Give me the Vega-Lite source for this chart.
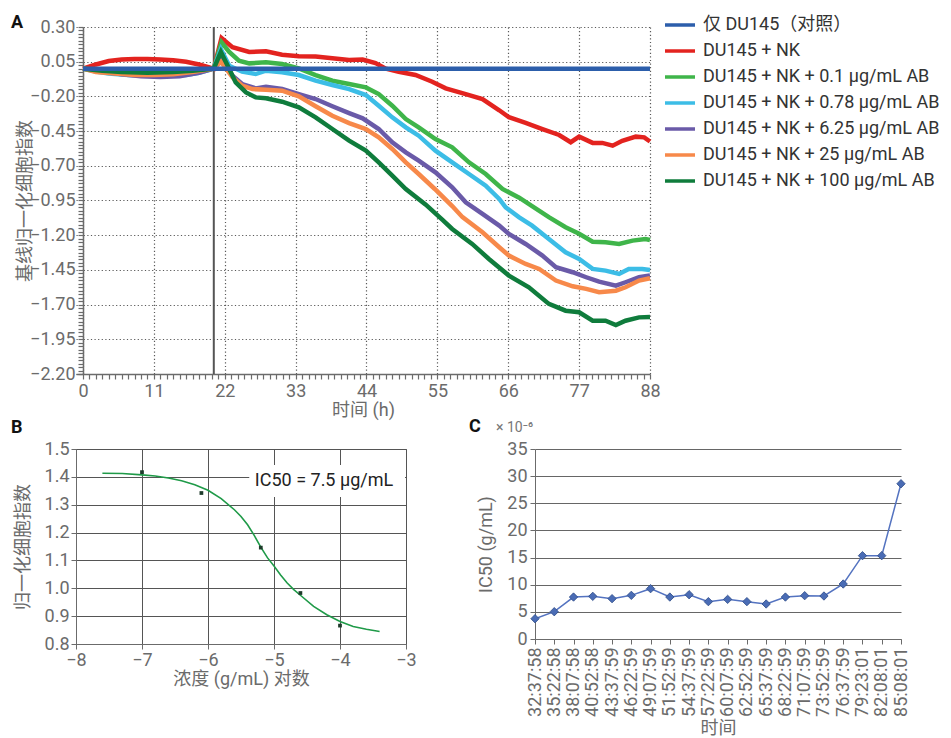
{
  "$schema": "https://vega.github.io/schema/vega-lite/v6.json",
  "background": "white",
  "padding": {"left": 10, "top": 8, "right": 0, "bottom": 0},
  "config": {
    "font": "Roboto, 'Noto Sans CJK SC', sans-serif",
    "view": {"stroke": null},
    "axis": {
      "labelFont": "Roboto, 'Noto Sans CJK SC', sans-serif",
      "titleFont": "Roboto, 'Noto Sans CJK SC', sans-serif",
      "labelColor": "#6b6b6b", "titleColor": "#6b6b6b",
      "labelFontSize": 18, "titleFontSize": 18, "titleFontWeight": "normal",
      "domainColor": "#6b6b6b", "tickColor": "#6b6b6b",
      "labelFlush": false, "labelOverlap": false, "labelBound": false
    },
    "title": {"font": "Roboto, sans-serif", "fontSize": 18, "fontWeight": "bold", "color": "#111111", "anchor": "start", "frame": "group"},
    "legend": {"labelFont": "Roboto, 'Noto Sans CJK SC', sans-serif"}
  },
  "datasets": {
    "lines": [
      {"s":"DU145 + NK","t":0,"v":0},{"s":"DU145 + NK","t":2,"v":0.03},{"s":"DU145 + NK","t":4,"v":0.055},{"s":"DU145 + NK","t":6,"v":0.065},{"s":"DU145 + NK","t":8,"v":0.07},{"s":"DU145 + NK","t":10,"v":0.07},{"s":"DU145 + NK","t":12,"v":0.065},{"s":"DU145 + NK","t":14,"v":0.06},{"s":"DU145 + NK","t":16,"v":0.05},{"s":"DU145 + NK","t":18,"v":0.03},{"s":"DU145 + NK","t":20.3,"v":0},{"s":"DU145 + NK","t":21.5,"v":0.22},{"s":"DU145 + NK","t":23.2,"v":0.155},{"s":"DU145 + NK","t":25.8,"v":0.12},{"s":"DU145 + NK","t":28.4,"v":0.125},{"s":"DU145 + NK","t":30.9,"v":0.1},{"s":"DU145 + NK","t":33.5,"v":0.09},{"s":"DU145 + NK","t":36.1,"v":0.087},{"s":"DU145 + NK","t":38.7,"v":0.075},{"s":"DU145 + NK","t":41.3,"v":0.062},{"s":"DU145 + NK","t":43.4,"v":0.066},{"s":"DU145 + NK","t":45.4,"v":0.04},{"s":"DU145 + NK","t":47,"v":0},{"s":"DU145 + NK","t":49,"v":-0.022},{"s":"DU145 + NK","t":51.6,"v":-0.046},{"s":"DU145 + NK","t":54.2,"v":-0.094},{"s":"DU145 + NK","t":56.3,"v":-0.142},{"s":"DU145 + NK","t":59.4,"v":-0.183},{"s":"DU145 + NK","t":62,"v":-0.22},{"s":"DU145 + NK","t":64.6,"v":-0.3},{"s":"DU145 + NK","t":66.1,"v":-0.35},{"s":"DU145 + NK","t":68.7,"v":-0.39},{"s":"DU145 + NK","t":71.3,"v":-0.435},{"s":"DU145 + NK","t":73.9,"v":-0.478},{"s":"DU145 + NK","t":75.7,"v":-0.53},{"s":"DU145 + NK","t":77,"v":-0.49},{"s":"DU145 + NK","t":79.1,"v":-0.535},{"s":"DU145 + NK","t":80.6,"v":-0.535},{"s":"DU145 + NK","t":82.2,"v":-0.555},{"s":"DU145 + NK","t":83.7,"v":-0.52},{"s":"DU145 + NK","t":85.8,"v":-0.49},{"s":"DU145 + NK","t":87.1,"v":-0.495},{"s":"DU145 + NK","t":88,"v":-0.525},

      {"s":"DU145 + NK + 0.1 μg/mL AB","t":0,"v":0},{"s":"DU145 + NK + 0.1 μg/mL AB","t":3,"v":-0.01},{"s":"DU145 + NK + 0.1 μg/mL AB","t":6,"v":-0.02},{"s":"DU145 + NK + 0.1 μg/mL AB","t":10,"v":-0.025},{"s":"DU145 + NK + 0.1 μg/mL AB","t":14,"v":-0.025},{"s":"DU145 + NK + 0.1 μg/mL AB","t":17,"v":-0.015},{"s":"DU145 + NK + 0.1 μg/mL AB","t":20.3,"v":0},{"s":"DU145 + NK + 0.1 μg/mL AB","t":21.5,"v":0.19},{"s":"DU145 + NK + 0.1 μg/mL AB","t":22.7,"v":0.12},{"s":"DU145 + NK + 0.1 μg/mL AB","t":24.2,"v":0.057},{"s":"DU145 + NK + 0.1 μg/mL AB","t":25.8,"v":0.038},{"s":"DU145 + NK + 0.1 μg/mL AB","t":28.4,"v":0.046},{"s":"DU145 + NK + 0.1 μg/mL AB","t":30.9,"v":0.033},{"s":"DU145 + NK + 0.1 μg/mL AB","t":33.5,"v":0.002},{"s":"DU145 + NK + 0.1 μg/mL AB","t":36.1,"v":-0.046},{"s":"DU145 + NK + 0.1 μg/mL AB","t":38.7,"v":-0.087},{"s":"DU145 + NK + 0.1 μg/mL AB","t":41.3,"v":-0.111},{"s":"DU145 + NK + 0.1 μg/mL AB","t":43.9,"v":-0.135},{"s":"DU145 + NK + 0.1 μg/mL AB","t":45.9,"v":-0.183},{"s":"DU145 + NK + 0.1 μg/mL AB","t":48,"v":-0.267},{"s":"DU145 + NK + 0.1 μg/mL AB","t":50.1,"v":-0.363},{"s":"DU145 + NK + 0.1 μg/mL AB","t":52.1,"v":-0.423},{"s":"DU145 + NK + 0.1 μg/mL AB","t":54.7,"v":-0.507},{"s":"DU145 + NK + 0.1 μg/mL AB","t":57.3,"v":-0.567},{"s":"DU145 + NK + 0.1 μg/mL AB","t":59.9,"v":-0.675},{"s":"DU145 + NK + 0.1 μg/mL AB","t":62.5,"v":-0.759},{"s":"DU145 + NK + 0.1 μg/mL AB","t":65.1,"v":-0.867},{"s":"DU145 + NK + 0.1 μg/mL AB","t":67.7,"v":-0.93},{"s":"DU145 + NK + 0.1 μg/mL AB","t":69.7,"v":-0.99},{"s":"DU145 + NK + 0.1 μg/mL AB","t":72.3,"v":-1.07},{"s":"DU145 + NK + 0.1 μg/mL AB","t":74.9,"v":-1.143},{"s":"DU145 + NK + 0.1 μg/mL AB","t":77,"v":-1.19},{"s":"DU145 + NK + 0.1 μg/mL AB","t":79.1,"v":-1.247},{"s":"DU145 + NK + 0.1 μg/mL AB","t":81.1,"v":-1.251},{"s":"DU145 + NK + 0.1 μg/mL AB","t":83.2,"v":-1.263},{"s":"DU145 + NK + 0.1 μg/mL AB","t":85.3,"v":-1.239},{"s":"DU145 + NK + 0.1 μg/mL AB","t":87.3,"v":-1.227},{"s":"DU145 + NK + 0.1 μg/mL AB","t":88,"v":-1.235},

      {"s":"DU145 + NK + 0.78 μg/mL AB","t":0,"v":0},{"s":"DU145 + NK + 0.78 μg/mL AB","t":2,"v":-0.02},{"s":"DU145 + NK + 0.78 μg/mL AB","t":4,"v":-0.035},{"s":"DU145 + NK + 0.78 μg/mL AB","t":7,"v":-0.045},{"s":"DU145 + NK + 0.78 μg/mL AB","t":10,"v":-0.05},{"s":"DU145 + NK + 0.78 μg/mL AB","t":13,"v":-0.05},{"s":"DU145 + NK + 0.78 μg/mL AB","t":16,"v":-0.045},{"s":"DU145 + NK + 0.78 μg/mL AB","t":18,"v":-0.03},{"s":"DU145 + NK + 0.78 μg/mL AB","t":20.3,"v":0},{"s":"DU145 + NK + 0.78 μg/mL AB","t":21.4,"v":0.14},{"s":"DU145 + NK + 0.78 μg/mL AB","t":22.7,"v":0.021},{"s":"DU145 + NK + 0.78 μg/mL AB","t":24.7,"v":-0.022},{"s":"DU145 + NK + 0.78 μg/mL AB","t":26.8,"v":-0.039},{"s":"DU145 + NK + 0.78 μg/mL AB","t":28.4,"v":-0.015},{"s":"DU145 + NK + 0.78 μg/mL AB","t":30.9,"v":-0.026},{"s":"DU145 + NK + 0.78 μg/mL AB","t":33.5,"v":-0.046},{"s":"DU145 + NK + 0.78 μg/mL AB","t":36.1,"v":-0.087},{"s":"DU145 + NK + 0.78 μg/mL AB","t":38.7,"v":-0.118},{"s":"DU145 + NK + 0.78 μg/mL AB","t":41.3,"v":-0.147},{"s":"DU145 + NK + 0.78 μg/mL AB","t":43.9,"v":-0.19},{"s":"DU145 + NK + 0.78 μg/mL AB","t":45.9,"v":-0.267},{"s":"DU145 + NK + 0.78 μg/mL AB","t":48,"v":-0.351},{"s":"DU145 + NK + 0.78 μg/mL AB","t":50.1,"v":-0.423},{"s":"DU145 + NK + 0.78 μg/mL AB","t":52.1,"v":-0.483},{"s":"DU145 + NK + 0.78 μg/mL AB","t":54.7,"v":-0.591},{"s":"DU145 + NK + 0.78 μg/mL AB","t":57.3,"v":-0.675},{"s":"DU145 + NK + 0.78 μg/mL AB","t":59.9,"v":-0.759},{"s":"DU145 + NK + 0.78 μg/mL AB","t":62.5,"v":-0.843},{"s":"DU145 + NK + 0.78 μg/mL AB","t":64.6,"v":-0.939},{"s":"DU145 + NK + 0.78 μg/mL AB","t":65.6,"v":-0.999},{"s":"DU145 + NK + 0.78 μg/mL AB","t":67.7,"v":-1.071},{"s":"DU145 + NK + 0.78 μg/mL AB","t":69.7,"v":-1.131},{"s":"DU145 + NK + 0.78 μg/mL AB","t":72.3,"v":-1.227},{"s":"DU145 + NK + 0.78 μg/mL AB","t":74.9,"v":-1.323},{"s":"DU145 + NK + 0.78 μg/mL AB","t":77,"v":-1.371},{"s":"DU145 + NK + 0.78 μg/mL AB","t":79.1,"v":-1.443},{"s":"DU145 + NK + 0.78 μg/mL AB","t":81.1,"v":-1.455},{"s":"DU145 + NK + 0.78 μg/mL AB","t":83.2,"v":-1.479},{"s":"DU145 + NK + 0.78 μg/mL AB","t":84.7,"v":-1.443},{"s":"DU145 + NK + 0.78 μg/mL AB","t":86.8,"v":-1.443},{"s":"DU145 + NK + 0.78 μg/mL AB","t":88,"v":-1.45},

      {"s":"DU145 + NK + 6.25 μg/mL AB","t":0,"v":0},{"s":"DU145 + NK + 6.25 μg/mL AB","t":3,"v":-0.02},{"s":"DU145 + NK + 6.25 μg/mL AB","t":6,"v":-0.04},{"s":"DU145 + NK + 6.25 μg/mL AB","t":9,"v":-0.055},{"s":"DU145 + NK + 6.25 μg/mL AB","t":12,"v":-0.06},{"s":"DU145 + NK + 6.25 μg/mL AB","t":15,"v":-0.055},{"s":"DU145 + NK + 6.25 μg/mL AB","t":18,"v":-0.03},{"s":"DU145 + NK + 6.25 μg/mL AB","t":20.3,"v":0},{"s":"DU145 + NK + 6.25 μg/mL AB","t":21.5,"v":0.07},{"s":"DU145 + NK + 6.25 μg/mL AB","t":23.2,"v":-0.051},{"s":"DU145 + NK + 6.25 μg/mL AB","t":24.7,"v":-0.111},{"s":"DU145 + NK + 6.25 μg/mL AB","t":26.8,"v":-0.142},{"s":"DU145 + NK + 6.25 μg/mL AB","t":28.4,"v":-0.13},{"s":"DU145 + NK + 6.25 μg/mL AB","t":30.9,"v":-0.147},{"s":"DU145 + NK + 6.25 μg/mL AB","t":33.5,"v":-0.183},{"s":"DU145 + NK + 6.25 μg/mL AB","t":36.1,"v":-0.219},{"s":"DU145 + NK + 6.25 μg/mL AB","t":38.7,"v":-0.271},{"s":"DU145 + NK + 6.25 μg/mL AB","t":41.3,"v":-0.32},{"s":"DU145 + NK + 6.25 μg/mL AB","t":43.4,"v":-0.358},{"s":"DU145 + NK + 6.25 μg/mL AB","t":45.9,"v":-0.435},{"s":"DU145 + NK + 6.25 μg/mL AB","t":48,"v":-0.531},{"s":"DU145 + NK + 6.25 μg/mL AB","t":50.1,"v":-0.603},{"s":"DU145 + NK + 6.25 μg/mL AB","t":52.1,"v":-0.663},{"s":"DU145 + NK + 6.25 μg/mL AB","t":54.7,"v":-0.747},{"s":"DU145 + NK + 6.25 μg/mL AB","t":57.3,"v":-0.855},{"s":"DU145 + NK + 6.25 μg/mL AB","t":59.4,"v":-0.963},{"s":"DU145 + NK + 6.25 μg/mL AB","t":62,"v":-1.047},{"s":"DU145 + NK + 6.25 μg/mL AB","t":64.6,"v":-1.131},{"s":"DU145 + NK + 6.25 μg/mL AB","t":66.1,"v":-1.191},{"s":"DU145 + NK + 6.25 μg/mL AB","t":68.7,"v":-1.263},{"s":"DU145 + NK + 6.25 μg/mL AB","t":71.3,"v":-1.347},{"s":"DU145 + NK + 6.25 μg/mL AB","t":73.4,"v":-1.431},{"s":"DU145 + NK + 6.25 μg/mL AB","t":76,"v":-1.467},{"s":"DU145 + NK + 6.25 μg/mL AB","t":78.1,"v":-1.503},{"s":"DU145 + NK + 6.25 μg/mL AB","t":80.1,"v":-1.535},{"s":"DU145 + NK + 6.25 μg/mL AB","t":82.7,"v":-1.564},{"s":"DU145 + NK + 6.25 μg/mL AB","t":84.2,"v":-1.539},{"s":"DU145 + NK + 6.25 μg/mL AB","t":86.3,"v":-1.503},{"s":"DU145 + NK + 6.25 μg/mL AB","t":88,"v":-1.49},

      {"s":"DU145 + NK + 25 μg/mL AB","t":0,"v":0},{"s":"DU145 + NK + 25 μg/mL AB","t":2,"v":-0.025},{"s":"DU145 + NK + 25 μg/mL AB","t":5,"v":-0.035},{"s":"DU145 + NK + 25 μg/mL AB","t":8,"v":-0.045},{"s":"DU145 + NK + 25 μg/mL AB","t":11,"v":-0.045},{"s":"DU145 + NK + 25 μg/mL AB","t":14,"v":-0.04},{"s":"DU145 + NK + 25 μg/mL AB","t":17,"v":-0.025},{"s":"DU145 + NK + 25 μg/mL AB","t":20.3,"v":0},{"s":"DU145 + NK + 25 μg/mL AB","t":21.4,"v":0.05},{"s":"DU145 + NK + 25 μg/mL AB","t":23.2,"v":-0.062},{"s":"DU145 + NK + 25 μg/mL AB","t":24.7,"v":-0.123},{"s":"DU145 + NK + 25 μg/mL AB","t":26.3,"v":-0.147},{"s":"DU145 + NK + 25 μg/mL AB","t":28.4,"v":-0.152},{"s":"DU145 + NK + 25 μg/mL AB","t":30.9,"v":-0.159},{"s":"DU145 + NK + 25 μg/mL AB","t":33.5,"v":-0.2},{"s":"DU145 + NK + 25 μg/mL AB","t":36.1,"v":-0.271},{"s":"DU145 + NK + 25 μg/mL AB","t":38.7,"v":-0.339},{"s":"DU145 + NK + 25 μg/mL AB","t":41.3,"v":-0.392},{"s":"DU145 + NK + 25 μg/mL AB","t":43.9,"v":-0.435},{"s":"DU145 + NK + 25 μg/mL AB","t":45.9,"v":-0.495},{"s":"DU145 + NK + 25 μg/mL AB","t":48,"v":-0.579},{"s":"DU145 + NK + 25 μg/mL AB","t":50.1,"v":-0.675},{"s":"DU145 + NK + 25 μg/mL AB","t":52.1,"v":-0.759},{"s":"DU145 + NK + 25 μg/mL AB","t":54.6,"v":-0.867},{"s":"DU145 + NK + 25 μg/mL AB","t":57.3,"v":-0.99},{"s":"DU145 + NK + 25 μg/mL AB","t":58.9,"v":-1.07},{"s":"DU145 + NK + 25 μg/mL AB","t":62,"v":-1.179},{"s":"DU145 + NK + 25 μg/mL AB","t":64.6,"v":-1.287},{"s":"DU145 + NK + 25 μg/mL AB","t":66.1,"v":-1.347},{"s":"DU145 + NK + 25 μg/mL AB","t":68.7,"v":-1.407},{"s":"DU145 + NK + 25 μg/mL AB","t":70.8,"v":-1.443},{"s":"DU145 + NK + 25 μg/mL AB","t":73.4,"v":-1.527},{"s":"DU145 + NK + 25 μg/mL AB","t":76,"v":-1.568},{"s":"DU145 + NK + 25 μg/mL AB","t":78.1,"v":-1.587},{"s":"DU145 + NK + 25 μg/mL AB","t":80.1,"v":-1.611},{"s":"DU145 + NK + 25 μg/mL AB","t":82.7,"v":-1.6},{"s":"DU145 + NK + 25 μg/mL AB","t":84.2,"v":-1.575},{"s":"DU145 + NK + 25 μg/mL AB","t":86.3,"v":-1.527},{"s":"DU145 + NK + 25 μg/mL AB","t":88,"v":-1.51},

      {"s":"DU145 + NK + 100 μg/mL AB","t":0,"v":0},{"s":"DU145 + NK + 100 μg/mL AB","t":3,"v":-0.015},{"s":"DU145 + NK + 100 μg/mL AB","t":6,"v":-0.025},{"s":"DU145 + NK + 100 μg/mL AB","t":10,"v":-0.03},{"s":"DU145 + NK + 100 μg/mL AB","t":14,"v":-0.025},{"s":"DU145 + NK + 100 μg/mL AB","t":17,"v":-0.015},{"s":"DU145 + NK + 100 μg/mL AB","t":20.3,"v":0},{"s":"DU145 + NK + 100 μg/mL AB","t":21.4,"v":0.12},{"s":"DU145 + NK + 100 μg/mL AB","t":22.7,"v":-0.003},{"s":"DU145 + NK + 100 μg/mL AB","t":23.7,"v":-0.099},{"s":"DU145 + NK + 100 μg/mL AB","t":25.3,"v":-0.171},{"s":"DU145 + NK + 100 μg/mL AB","t":26.8,"v":-0.207},{"s":"DU145 + NK + 100 μg/mL AB","t":28.4,"v":-0.214},{"s":"DU145 + NK + 100 μg/mL AB","t":30.9,"v":-0.238},{"s":"DU145 + NK + 100 μg/mL AB","t":33.5,"v":-0.279},{"s":"DU145 + NK + 100 μg/mL AB","t":36.1,"v":-0.351},{"s":"DU145 + NK + 100 μg/mL AB","t":38.7,"v":-0.435},{"s":"DU145 + NK + 100 μg/mL AB","t":41.3,"v":-0.519},{"s":"DU145 + NK + 100 μg/mL AB","t":43.9,"v":-0.591},{"s":"DU145 + NK + 100 μg/mL AB","t":45.9,"v":-0.675},{"s":"DU145 + NK + 100 μg/mL AB","t":48,"v":-0.771},{"s":"DU145 + NK + 100 μg/mL AB","t":50.1,"v":-0.867},{"s":"DU145 + NK + 100 μg/mL AB","t":53.2,"v":-0.98},{"s":"DU145 + NK + 100 μg/mL AB","t":55.8,"v":-1.09},{"s":"DU145 + NK + 100 μg/mL AB","t":57.3,"v":-1.155},{"s":"DU145 + NK + 100 μg/mL AB","t":60.4,"v":-1.263},{"s":"DU145 + NK + 100 μg/mL AB","t":63,"v":-1.371},{"s":"DU145 + NK + 100 μg/mL AB","t":66.1,"v":-1.491},{"s":"DU145 + NK + 100 μg/mL AB","t":69.2,"v":-1.575},{"s":"DU145 + NK + 100 μg/mL AB","t":72.3,"v":-1.695},{"s":"DU145 + NK + 100 μg/mL AB","t":74.9,"v":-1.744},{"s":"DU145 + NK + 100 μg/mL AB","t":77,"v":-1.755},{"s":"DU145 + NK + 100 μg/mL AB","t":79.1,"v":-1.816},{"s":"DU145 + NK + 100 μg/mL AB","t":81.1,"v":-1.816},{"s":"DU145 + NK + 100 μg/mL AB","t":82.7,"v":-1.847},{"s":"DU145 + NK + 100 μg/mL AB","t":84.2,"v":-1.816},{"s":"DU145 + NK + 100 μg/mL AB","t":86.3,"v":-1.792},{"s":"DU145 + NK + 100 μg/mL AB","t":88,"v":-1.79}
    ],
    "ctrl": [
      {"s":"仅 DU145（对照）","t":0,"v":0},{"s":"仅 DU145（对照）","t":20.3,"v":0},{"s":"仅 DU145（对照）","t":88,"v":0}
    ],
    "bfit": [
      {"logc":-7.6,"nci":1.413},{"logc":-7.3,"nci":1.412},{"logc":-7.0,"nci":1.407},{"logc":-6.8,"nci":1.403},{"logc":-6.6,"nci":1.396},{"logc":-6.4,"nci":1.386},{"logc":-6.2,"nci":1.372},{"logc":-6.0,"nci":1.352},{"logc":-5.8,"nci":1.322},{"logc":-5.6,"nci":1.282},{"logc":-5.5,"nci":1.258},{"logc":-5.4,"nci":1.228},{"logc":-5.3,"nci":1.19},{"logc":-5.2,"nci":1.148},{"logc":-5.1,"nci":1.11},{"logc":-5.0,"nci":1.08},{"logc":-4.9,"nci":1.048},{"logc":-4.8,"nci":1.019},{"logc":-4.7,"nci":0.995},{"logc":-4.6,"nci":0.975},{"logc":-4.4,"nci":0.935},{"logc":-4.2,"nci":0.905},{"logc":-4.0,"nci":0.881},{"logc":-3.8,"nci":0.863},{"logc":-3.6,"nci":0.853},{"logc":-3.4,"nci":0.845}
    ],
    "bpts": [
      {"logc":-7.0,"nci":1.417},{"logc":-6.1,"nci":1.342},{"logc":-5.2,"nci":1.146},{"logc":-4.6,"nci":0.983},{"logc":-4.0,"nci":0.866}
    ],
    "cic": [
      {"time":"32:37:58","ic50":3.74},{"time":"35:22:58","ic50":5.03},{"time":"38:07:58","ic50":7.73},{"time":"40:52:58","ic50":7.86},{"time":"43:37:59","ic50":7.43},{"time":"46:22:59","ic50":8.04},{"time":"49:07:59","ic50":9.27},{"time":"51:52:59","ic50":7.73},{"time":"54:37:59","ic50":8.16},{"time":"57:22:59","ic50":6.88},{"time":"60:07:59","ic50":7.3},{"time":"62:52:59","ic50":6.88},{"time":"65:37:59","ic50":6.45},{"time":"68:22:59","ic50":7.73},{"time":"71:07:59","ic50":7.98},{"time":"73:52:59","ic50":7.92},{"time":"76:37:59","ic50":10.13},{"time":"79:23:01","ic50":15.35},{"time":"82:08:01","ic50":15.35},{"time":"85:08:01","ic50":28.6}
    ]
  },
  "bounds": "flush",
  "spacing": 75,
  "vconcat": [
    {
      "width": 574, "height": 347,
      "title": {"text": "A", "dx": -65, "offset": -14},
      "layer": [
        {
          "data": {"values": [{}]},
          "mark": {"type": "rule", "color": "#555555", "strokeWidth": 2},
          "encoding": {
            "x": {"datum": 20.3, "type": "quantitative", "scale": {"domain": [-1.0864, 88], "nice": false, "zero": false},
              "axis": {"orient": "bottom", "values": [0,1,2,3,4,5,6,7,8,9,10,11,12,13,14,15,16,17,18,19,20,21,22,23,24,25,26,27,28,29,30,31,32,33,34,35,36,37,38,39,40,41,42,43,44,45,46,47,48,49,50,51,52,53,54,55,56,57,58,59,60,61,62,63,64,65,66,67,68,69,70,71,72,73,74,75,76,77,78,79,80,81,82,83,84,85,86,87,88], "labelExpr": "datum.value % 11 === 0 ? datum.label : ''", "grid": true, "gridOpacity": {"condition": {"test": "datum.value % 11 === 0", "value": 1}, "value": 0}, "gridColor": "#5a5a5a", "gridDash": [1.2, 2.4], "gridWidth": 1.2, "tickSize": 5, "tickWidth": 1.2, "domainWidth": 1.5, "labelPadding": 3, "title": "时间 (h)", "titlePadding": 1}}
          }
        },
        {
          "data": {"name": "lines"},
          "mark": {"type": "line", "strokeWidth": 4.5},
          "encoding": {
            "x": {"field": "t", "type": "quantitative", "scale": {"domain": [-1.0864, 88], "nice": false, "zero": false},
              "axis": {"orient": "bottom", "values": [0,1,2,3,4,5,6,7,8,9,10,11,12,13,14,15,16,17,18,19,20,21,22,23,24,25,26,27,28,29,30,31,32,33,34,35,36,37,38,39,40,41,42,43,44,45,46,47,48,49,50,51,52,53,54,55,56,57,58,59,60,61,62,63,64,65,66,67,68,69,70,71,72,73,74,75,76,77,78,79,80,81,82,83,84,85,86,87,88], "labelExpr": "datum.value % 11 === 0 ? datum.label : ''", "grid": true, "gridOpacity": {"condition": {"test": "datum.value % 11 === 0", "value": 1}, "value": 0}, "gridColor": "#5a5a5a", "gridDash": [1.2, 2.4], "gridWidth": 1.2, "tickSize": 5, "tickWidth": 1.2, "domainWidth": 1.5, "labelPadding": 3, "title": "时间 (h)", "titlePadding": 1}},
            "y": {"field": "v", "type": "quantitative", "scale": {"domain": [-2.2, 0.3], "nice": false, "zero": false},
              "axis": {"orient": "left", "offset": -7, "values": [-2.2,-2.175,-2.15,-2.125,-2.1,-2.075,-2.05,-2.025,-2,-1.975,-1.95,-1.925,-1.9,-1.875,-1.85,-1.825,-1.8,-1.775,-1.75,-1.725,-1.7,-1.675,-1.65,-1.625,-1.6,-1.575,-1.55,-1.525,-1.5,-1.475,-1.45,-1.425,-1.4,-1.375,-1.35,-1.325,-1.3,-1.275,-1.25,-1.225,-1.2,-1.175,-1.15,-1.125,-1.1,-1.075,-1.05,-1.025,-1,-0.975,-0.95,-0.925,-0.9,-0.875,-0.85,-0.825,-0.8,-0.775,-0.75,-0.725,-0.7,-0.675,-0.65,-0.625,-0.6,-0.575,-0.55,-0.525,-0.5,-0.475,-0.45,-0.425,-0.4,-0.375,-0.35,-0.325,-0.3,-0.275,-0.25,-0.225,-0.2,-0.175,-0.15,-0.125,-0.1,-0.075,-0.05,-0.025,0,0.025,0.05,0.075,0.1,0.125,0.15,0.175,0.2,0.225,0.25,0.275,0.3], "format": ".2f", "labelExpr": "abs((datum.value + 2.2) / 0.25 - round((datum.value + 2.2) / 0.25)) < 0.01 ? datum.label : ''", "grid": true, "gridOpacity": {"condition": {"test": "abs((datum.value + 2.2) / 0.25 - round((datum.value + 2.2) / 0.25)) < 0.01", "value": 1}, "value": 0}, "gridColor": "#5a5a5a", "gridDash": [1.2, 2.4], "gridWidth": 1.2, "tickSize": 5, "tickWidth": 1.2, "domainWidth": 1.5, "labelPadding": 3, "title": "基线归一化细胞指数", "titlePadding": -5}},
            "color": {"field": "s", "type": "nominal",
              "scale": {"domain": ["仅 DU145（对照）", "DU145 + NK", "DU145 + NK + 0.1 μg/mL AB", "DU145 + NK + 0.78 μg/mL AB", "DU145 + NK + 6.25 μg/mL AB", "DU145 + NK + 25 μg/mL AB", "DU145 + NK + 100 μg/mL AB"],
                "range": ["#2c5eab", "#e3231f", "#3fb54a", "#3cbde6", "#6a5aa8", "#f7894a", "#0f7c3c"]},
              "legend": {"title": null, "orient": "none", "legendX": 587, "legendY": -19, "symbolType": "stroke", "symbolSize": 900, "symbolStrokeWidth": 3.5, "labelFontSize": 18, "labelColor": "#333333", "labelOffset": 6, "rowPadding": -5.2, "labelLimit": 400, "padding": 0}}
          }
        },
        {
          "data": {"name": "ctrl"},
          "mark": {"type": "line", "strokeWidth": 4.5},
          "encoding": {
            "x": {"field": "t", "type": "quantitative", "scale": {"domain": [-1.0864, 88], "nice": false, "zero": false},
              "axis": {"orient": "bottom", "values": [0,1,2,3,4,5,6,7,8,9,10,11,12,13,14,15,16,17,18,19,20,21,22,23,24,25,26,27,28,29,30,31,32,33,34,35,36,37,38,39,40,41,42,43,44,45,46,47,48,49,50,51,52,53,54,55,56,57,58,59,60,61,62,63,64,65,66,67,68,69,70,71,72,73,74,75,76,77,78,79,80,81,82,83,84,85,86,87,88], "labelExpr": "datum.value % 11 === 0 ? datum.label : ''", "grid": true, "gridOpacity": {"condition": {"test": "datum.value % 11 === 0", "value": 1}, "value": 0}, "gridColor": "#5a5a5a", "gridDash": [1.2, 2.4], "gridWidth": 1.2, "tickSize": 5, "tickWidth": 1.2, "domainWidth": 1.5, "labelPadding": 3, "title": "时间 (h)", "titlePadding": 1}},
            "y": {"field": "v", "type": "quantitative", "scale": {"domain": [-2.2, 0.3], "nice": false, "zero": false},
              "axis": {"orient": "left", "offset": -7, "values": [-2.2,-2.175,-2.15,-2.125,-2.1,-2.075,-2.05,-2.025,-2,-1.975,-1.95,-1.925,-1.9,-1.875,-1.85,-1.825,-1.8,-1.775,-1.75,-1.725,-1.7,-1.675,-1.65,-1.625,-1.6,-1.575,-1.55,-1.525,-1.5,-1.475,-1.45,-1.425,-1.4,-1.375,-1.35,-1.325,-1.3,-1.275,-1.25,-1.225,-1.2,-1.175,-1.15,-1.125,-1.1,-1.075,-1.05,-1.025,-1,-0.975,-0.95,-0.925,-0.9,-0.875,-0.85,-0.825,-0.8,-0.775,-0.75,-0.725,-0.7,-0.675,-0.65,-0.625,-0.6,-0.575,-0.55,-0.525,-0.5,-0.475,-0.45,-0.425,-0.4,-0.375,-0.35,-0.325,-0.3,-0.275,-0.25,-0.225,-0.2,-0.175,-0.15,-0.125,-0.1,-0.075,-0.05,-0.025,0,0.025,0.05,0.075,0.1,0.125,0.15,0.175,0.2,0.225,0.25,0.275,0.3], "format": ".2f", "labelExpr": "abs((datum.value + 2.2) / 0.25 - round((datum.value + 2.2) / 0.25)) < 0.01 ? datum.label : ''", "grid": true, "gridOpacity": {"condition": {"test": "abs((datum.value + 2.2) / 0.25 - round((datum.value + 2.2) / 0.25)) < 0.01", "value": 1}, "value": 0}, "gridColor": "#5a5a5a", "gridDash": [1.2, 2.4], "gridWidth": 1.2, "tickSize": 5, "tickWidth": 1.2, "domainWidth": 1.5, "labelPadding": 3, "title": "基线归一化细胞指数", "titlePadding": -5}},
            "color": {"field": "s", "type": "nominal", "scale": {"domain": ["仅 DU145（对照）", "DU145 + NK", "DU145 + NK + 0.1 μg/mL AB", "DU145 + NK + 0.78 μg/mL AB", "DU145 + NK + 6.25 μg/mL AB", "DU145 + NK + 25 μg/mL AB", "DU145 + NK + 100 μg/mL AB"],
                "range": ["#2c5eab", "#e3231f", "#3fb54a", "#3cbde6", "#6a5aa8", "#f7894a", "#0f7c3c"]},
              "legend": {"title": null, "orient": "none", "legendX": 587, "legendY": -19, "symbolType": "stroke", "symbolSize": 900, "symbolStrokeWidth": 3.5, "labelFontSize": 18, "labelColor": "#333333", "labelOffset": 6, "rowPadding": -5.2, "labelLimit": 400, "padding": 0}}
          }
        }
      ]
    },
    {
      "bounds": "flush",
      "spacing": 129,
      "hconcat": [
        {
          "width": 330, "height": 195,
          "title": {"text": "B", "dx": -65, "offset": 3},
          "view": {"stroke": "#666666", "strokeWidth": 1},
          "layer": [
            {
              "data": {"name": "bfit"},
              "mark": {"type": "line", "color": "#1f9a48", "strokeWidth": 1.6},
              "encoding": {
                "x": {"field": "logc", "type": "quantitative", "scale": {"domain": [-8, -3], "nice": false},
                  "axis": {"values": [-8, -7, -6, -5, -4, -3], "format": ".0f", "grid": true, "gridColor": "#555555", "gridWidth": 1, "tickSize": 5, "labelPadding": 2, "title": "浓度 (g/mL) 对数", "titlePadding": 1}},
                "y": {"field": "nci", "type": "quantitative", "scale": {"domain": [0.8, 1.5], "nice": false, "zero": false},
                  "axis": {"values": [0.8, 0.9, 1.0, 1.1, 1.2, 1.3, 1.4, 1.5], "format": ".1f", "grid": true, "gridColor": "#555555", "gridWidth": 1, "tickSize": 5, "labelPadding": 2, "title": "归一化细胞指数", "titlePadding": 12}}
              }
            },
            {
              "data": {"name": "bpts"},
              "mark": {"type": "square", "color": "#1e3b2b", "size": 14, "opacity": 1},
              "encoding": {
                "x": {"field": "logc", "type": "quantitative", "scale": {"domain": [-8, -3], "nice": false},
                  "axis": {"values": [-8, -7, -6, -5, -4, -3], "format": ".0f", "grid": true, "gridColor": "#555555", "gridWidth": 1, "tickSize": 5, "labelPadding": 2, "title": "浓度 (g/mL) 对数", "titlePadding": 1}},
                "y": {"field": "nci", "type": "quantitative", "scale": {"domain": [0.8, 1.5], "nice": false, "zero": false},
                  "axis": {"values": [0.8, 0.9, 1.0, 1.1, 1.2, 1.3, 1.4, 1.5], "format": ".1f", "grid": true, "gridColor": "#555555", "gridWidth": 1, "tickSize": 5, "labelPadding": 2, "title": "归一化细胞指数", "titlePadding": 12}}
              }
            },
            {
              "data": {"values": [{}]},
              "mark": {"type": "rect", "color": "white"},
              "encoding": {
                "x": {"datum": -5.375, "type": "quantitative", "scale": {"domain": [-8, -3], "nice": false},
                  "axis": {"values": [-8, -7, -6, -5, -4, -3], "format": ".0f", "grid": true, "gridColor": "#555555", "gridWidth": 1, "tickSize": 5, "labelPadding": 2, "title": "浓度 (g/mL) 对数", "titlePadding": 1}},
                "x2": {"datum": -3.015},
                "y": {"datum": 1.443, "type": "quantitative", "scale": {"domain": [0.8, 1.5], "nice": false, "zero": false},
                  "axis": {"values": [0.8, 0.9, 1.0, 1.1, 1.2, 1.3, 1.4, 1.5], "format": ".1f", "grid": true, "gridColor": "#555555", "gridWidth": 1, "tickSize": 5, "labelPadding": 2, "title": "归一化细胞指数", "titlePadding": 12}},
                "y2": {"datum": 1.328}
              }
            },
            {
              "data": {"values": [{}]},
              "mark": {"type": "text", "align": "left", "baseline": "middle", "fontSize": 18, "fontWeight": "normal", "font": "Roboto, sans-serif", "color": "#222222"},
              "encoding": {
                "x": {"datum": -5.29, "type": "quantitative", "scale": {"domain": [-8, -3], "nice": false},
                  "axis": {"values": [-8, -7, -6, -5, -4, -3], "format": ".0f", "grid": true, "gridColor": "#555555", "gridWidth": 1, "tickSize": 5, "labelPadding": 2, "title": "浓度 (g/mL) 对数", "titlePadding": 1}},
                "y": {"datum": 1.385, "type": "quantitative", "scale": {"domain": [0.8, 1.5], "nice": false, "zero": false},
                  "axis": {"values": [0.8, 0.9, 1.0, 1.1, 1.2, 1.3, 1.4, 1.5], "format": ".1f", "grid": true, "gridColor": "#555555", "gridWidth": 1, "tickSize": 5, "labelPadding": 2, "title": "归一化细胞指数", "titlePadding": 12}},
                "text": {"value": "IC50 = 7.5 μg/mL"}
              }
            }
          ]
        },
        {
          "width": 366, "height": 190,
          "title": {"text": "C", "dx": -66, "offset": -15},
          "layer": [
            {
              "data": {"name": "cic"},
              "mark": {"type": "line", "color": "#5473c0", "strokeWidth": 1.5},
              "encoding": {
                "x": {"field": "time", "type": "ordinal",
                  "scale": {"type": "point", "padding": 0, "domain": ["32:37:58","35:22:58","38:07:58","40:52:58","43:37:59","46:22:59","49:07:59","51:52:59","54:37:59","57:22:59","60:07:59","62:52:59","65:37:59","68:22:59","71:07:59","73:52:59","76:37:59","79:23:01","82:08:01","85:08:01"]},
                  "axis": {"labelAngle": -90, "labelFontSize": 18, "tickSize": 5, "labelPadding": 3, "grid": false, "title": "时间", "titlePadding": 3}},
                "y": {"field": "ic50", "type": "quantitative", "scale": {"domain": [0, 35], "nice": false},
                  "axis": {"values": [0, 5, 10, 15, 20, 25, 30, 35], "format": "d", "grid": true, "gridColor": "#666666", "gridWidth": 1, "tickSize": 5, "labelPadding": 3, "title": "IC50 (g/mL)", "titlePadding": 11}}
              }
            },
            {
              "data": {"name": "cic"},
              "mark": {"type": "point", "shape": "diamond", "filled": true, "color": "#4a6cb5", "stroke": "#2c4a87", "strokeWidth": 0.8, "size": 70, "opacity": 1},
              "encoding": {
                "x": {"field": "time", "type": "ordinal",
                  "scale": {"type": "point", "padding": 0, "domain": ["32:37:58","35:22:58","38:07:58","40:52:58","43:37:59","46:22:59","49:07:59","51:52:59","54:37:59","57:22:59","60:07:59","62:52:59","65:37:59","68:22:59","71:07:59","73:52:59","76:37:59","79:23:01","82:08:01","85:08:01"]},
                  "axis": {"labelAngle": -90, "labelFontSize": 18, "tickSize": 5, "labelPadding": 3, "grid": false, "title": "时间", "titlePadding": 3}},
                "y": {"field": "ic50", "type": "quantitative", "scale": {"domain": [0, 35], "nice": false},
                  "axis": {"values": [0, 5, 10, 15, 20, 25, 30, 35], "format": "d", "grid": true, "gridColor": "#666666", "gridWidth": 1, "tickSize": 5, "labelPadding": 3, "title": "IC50 (g/mL)", "titlePadding": 11}}
              }
            },
            {
              "data": {"values": [{}]},
              "mark": {"type": "text", "align": "left", "baseline": "middle", "fontSize": 14, "fontWeight": "normal", "font": "Roboto, sans-serif", "color": "#777777", "dx": -39, "dy": -21},
              "encoding": {
                "x": {"datum": "32:37:58", "type": "ordinal",
                  "scale": {"type": "point", "padding": 0, "domain": ["32:37:58","35:22:58","38:07:58","40:52:58","43:37:59","46:22:59","49:07:59","51:52:59","54:37:59","57:22:59","60:07:59","62:52:59","65:37:59","68:22:59","71:07:59","73:52:59","76:37:59","79:23:01","82:08:01","85:08:01"]},
                  "axis": {"labelAngle": -90, "labelFontSize": 18, "tickSize": 5, "labelPadding": 3, "grid": false, "title": "时间", "titlePadding": 3}},
                "y": {"datum": 35, "type": "quantitative", "scale": {"domain": [0, 35], "nice": false},
                  "axis": {"values": [0, 5, 10, 15, 20, 25, 30, 35], "format": "d", "grid": true, "gridColor": "#666666", "gridWidth": 1, "tickSize": 5, "labelPadding": 3, "title": "IC50 (g/mL)", "titlePadding": 11}},
                "text": {"value": "× 10⁻⁶"}
              }
            }
          ]
        }
      ]
    }
  ]
}
